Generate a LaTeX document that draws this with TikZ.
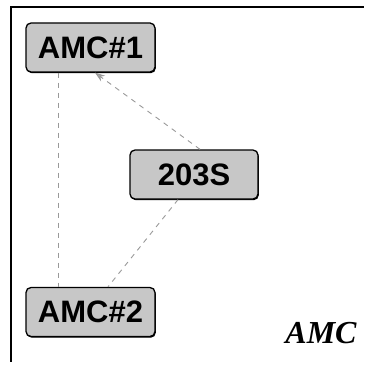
\documentclass[tikz,border=0pt]{standalone}
\usepackage{fontspec}
\setmainfont{Liberation Serif}
\setsansfont{Liberation Sans}
\usetikzlibrary{arrows.meta,shadows}
\begin{document}
\begin{tikzpicture}[x=1pt,y=-1pt,
  amcbox/.style={draw=black,line width=1.3pt,rounded corners=5pt,fill=black!22,
    drop shadow={shadow xshift=0.8pt,shadow yshift=-1.2pt,fill=black,opacity=1},
    minimum width=129pt,minimum height=49pt,inner sep=0pt,
    font=\sffamily\bfseries\fontsize{31}{31}\selectfont},
  link/.style={draw=black!40,line width=0.9pt,dash pattern=on 5pt off 5pt}]
\useasboundingbox (0,0) rectangle (364,366);
\draw[line width=1.2pt] (10,7) -- (364,7);
\draw[line width=1.2pt] (11,7) -- (11,362);
\node[amcbox] (a1) at (90.5,47.5) {AMC\#1};
\node[amcbox,minimum width=128pt] (s) at (194,174.5) {203S};
\node[amcbox] (a2) at (90.5,312) {AMC\#2};
\node[font=\rmfamily\bfseries\itshape\fontsize{32}{32}\selectfont] (t) at (321,333) {AMC};
\draw[link] (a1.south -| 58,0) -- (a2.north -| 58,0);
\draw[link,-{Stealth[length=10pt,width=7pt,fill=black!35]}] (s.north -| 200,0) -- (a1.south -| 95,0);
\draw[link] (s.south -| 178,0) -- (a2.north -| 108,0);
\end{tikzpicture}
\end{document}
